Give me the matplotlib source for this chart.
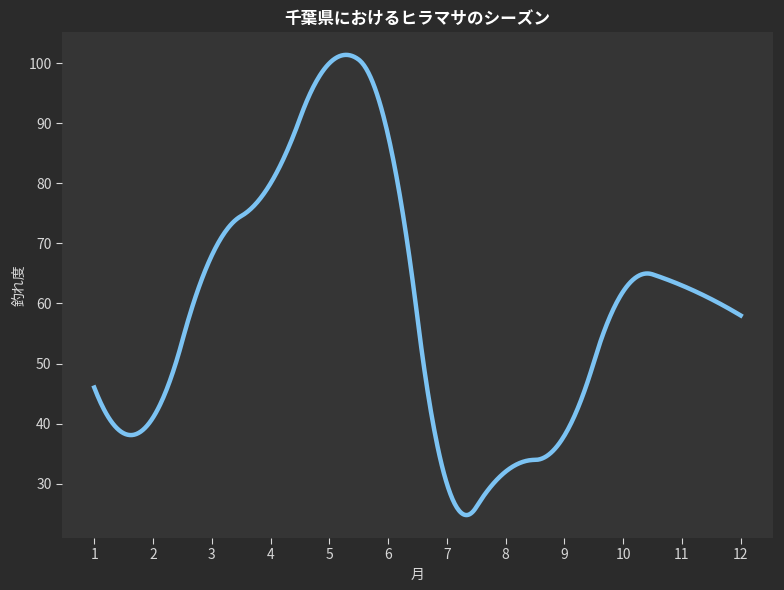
import numpy as np
import matplotlib
matplotlib.use("Agg")
import matplotlib.pyplot as plt

months = [1, 2, 3, 4, 5, 6, 7, 8, 9, 10, 11, 12]
catch_level = [46, 41, 68, 80, 100, 88, 30, 32, 38, 62, 63, 58]
title = "千葉県におけるヒラマサのシーズン"
xlabel = "月"
ylabel = "釣れ度"


def bspline_basis(t, k, xs):
    xs = np.asarray(xs, float)
    n0 = len(t) - 1
    B = np.zeros((len(xs), n0))
    for i in range(n0):
        if t[i] < t[i + 1]:
            B[:, i] = (xs >= t[i]) & (xs < t[i + 1])
    last = max(i for i in range(n0) if t[i] < t[i + 1])
    B[xs == t[-1], last] = 1.0
    for d in range(1, k + 1):
        Bn = np.zeros((len(xs), n0 - d))
        for i in range(n0 - d):
            a = t[i + d] - t[i]
            b = t[i + d + 1] - t[i + 1]
            term = 0.0
            if a > 0:
                term = term + (xs - t[i]) / a * B[:, i]
            if b > 0:
                term = term + (t[i + d + 1] - xs) / b * B[:, i + 1]
            Bn[:, i] = term
        B = Bn
    return B


x = np.array(months, float)
y = np.array(catch_level, float)
k = 2
mid = (x[1:] + x[:-1]) / 2.0
t = np.r_[(x[0],) * (k + 1), mid[1:-1], (x[-1],) * (k + 1)]
A = bspline_basis(t, k, x)
c = np.linalg.solve(A, y)
xs = np.linspace(x.min(), x.max(), 600)
ys = bspline_basis(t, k, xs) @ c

plt.rcParams['font.family'] = ['Noto Sans CJK JP', 'DejaVu Sans']

fig = plt.figure(figsize=(7.84, 5.9), dpi=100, facecolor="#2b2b2b")
ax = fig.add_axes([0.079, 0.088, 0.907, 0.858])
ax.set_facecolor("#353535")
ax.plot(xs, ys, color="#7cc3f3", linewidth=3.2)
ax.set_xticks(months)
for s in ax.spines.values():
    s.set_visible(False)
ax.tick_params(colors="#d8d8d8", labelsize=10, length=4)
ax.set_title(title, color="white", fontsize=12, fontweight="bold", pad=6)
ax.set_xlabel(xlabel, color="#d8d8d8", fontsize=10)
ax.set_ylabel(ylabel, color="#d8d8d8", fontsize=10, labelpad=1)
fig.savefig("out.png", dpi=100, facecolor=fig.get_facecolor())
